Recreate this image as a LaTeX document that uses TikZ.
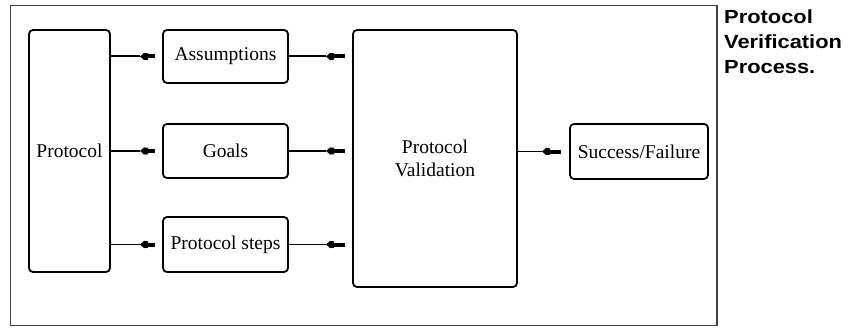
\documentclass[tikz,border=0pt]{standalone}
\usepackage{fontspec}
\setmainfont{Liberation Serif}
\newfontfamily\titlefont[FakeStretch=1.15]{Liberation Sans}
\usetikzlibrary{calc}
\tikzset{
  x=1pt,y=-1pt,
  blk/.style={draw=black,line width=1.8pt,rounded corners=4pt,inner sep=0pt,
    font=\fontsize{19.5}{23}\selectfont,align=center},
  conn/.style={draw=black,line width=2pt},
  thinconn/.style={draw=black,line width=1.1pt},
  tipL/.pic={\fill[black] (0,0) -- (4,-3.6) -- (8,-3.2) -- (8,3.2) -- (4,3.6) -- cycle;
             \fill[black] (7,-2) rectangle (#1,2);}
}
\begin{document}
\begin{tikzpicture}
\useasboundingbox (0,0) rectangle (853,329);
\draw[draw=black!75,line width=1.1pt] (10.5,5.5) rectangle (717,325.5);
\node[blk,minimum width=81pt,minimum height=242pt] (proto) at (69.5,151) {Protocol};
\node[blk,minimum width=125pt,minimum height=53pt] (asm) at (225.5,56.5) {Assumptions};
\node[blk,minimum width=125pt,minimum height=54pt] (goals) at (225.5,151) {Goals};
\node[blk,minimum width=125pt,minimum height=55pt] (steps) at (225.5,244.5) {Protocol steps};
\node[blk,minimum width=164pt,minimum height=257pt] (valid) at (435,158.5) {Protocol\\Validation};
\node[blk,minimum width=138pt,minimum height=55pt] (succ) at (639,151.5) {Success/Failure};
\node[anchor=base west,inner sep=0pt,align=left,font=\titlefont\bfseries\fontsize{19}{25}\selectfont] (title) at (724,73) {Protocol\\Verification\\Process.};
% connectors
\draw[conn] (proto.east |- asm.west) -- ($(asm.west)+(-22,0)$) pic{tipL=15};
\draw[conn] (proto.east |- goals.west) -- ($(goals.west)+(-22,0)$) pic{tipL=15};
\draw[thinconn] (proto.east |- steps.west) -- ($(steps.west)+(-22,0)$) pic{tipL=15};
\draw[conn] (asm.east) -- ($(valid.west |- asm.east)+(-26,0)$) pic{tipL=19};
\draw[conn] (goals.east) -- ($(valid.west |- goals.east)+(-26,0)$) pic{tipL=19};
\draw[thinconn] (steps.east) -- ($(valid.west |- steps.east)+(-26,0)$) pic{tipL=19};
\draw[conn,line width=1.5pt] (valid.east |- succ.west) -- ($(succ.west)+(-27,0)$) pic{tipL=19};
\end{tikzpicture}
\end{document}
